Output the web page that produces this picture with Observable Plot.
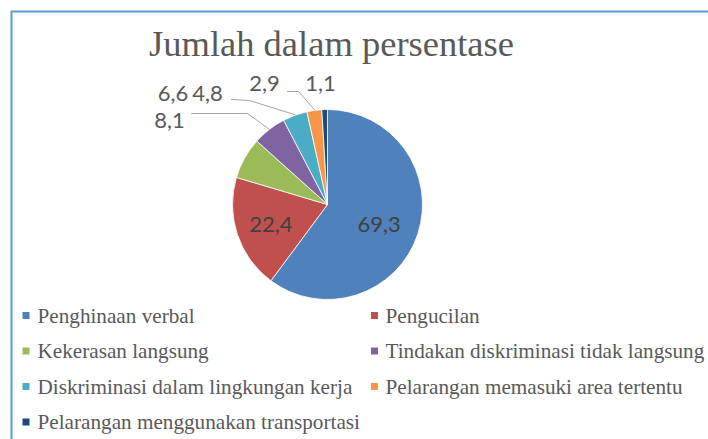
<!DOCTYPE html>
<html><head><meta charset="utf-8">
<script src="https://cdn.jsdelivr.net/npm/d3@7"></script>
<script src="https://cdn.jsdelivr.net/npm/@observablehq/plot@0.6"></script>
<style>html,body{margin:0;padding:0;background:#fff;overflow:hidden}</style>
</head><body><div id="chart"></div>
<script>
// ---- data ----
const title = "Jumlah dalam persentase";
const categories = [
  "Penghinaan verbal",
  "Pengucilan",
  "Kekerasan langsung",
  "Tindakan diskriminasi tidak langsung",
  "Diskriminasi dalam lingkungan kerja",
  "Pelarangan memasuki area tertentu",
  "Pelarangan menggunakan transportasi"
];
const values = [69.3, 22.4, 8.1, 6.6, 4.8, 2.9, 1.1];
const valueLabels = ["69,3", "22,4", "8,1", "6,6", "4,8", "2,9", "1,1"];
const colors = ["#4F81BD", "#C0504D", "#9BBB59", "#8064A2", "#4BACC6", "#F79646", "#1F497D"];

// ---- layout ----
const W = 708, H = 439;
const PIE = {cx: 327.5, cy: 204.5, r: 95};
const inside = [0, 1];                // slices labelled inside
const insideRadius = 0.6, insideShift = [-3, 2];
const outsidePos = {2: [169, 120], 3: [172.5, 93], 4: [207, 93], 5: [264, 83], 6: [320, 83]};
const leaderStart = {3: [[191, 113], [247, 113]], 4: [[231, 99], [249, 100]], 5: [[287, 91], [298, 91]]};
const legend = {colX: [22.5, 371], textGap: [14.5, 14], rowY: [315.5, 351, 386.5, 422], box: 7};

const arcs = d3.pie().sort(null).value(d => d)(values);
const rows = values.map((v, i) => {
  const a0 = arcs[i].startAngle, a1 = arcs[i].endAngle, mid = (a0 + a1) / 2;
  return {i, name: categories[i], value: v, label: valueLabels[i], color: colors[i], a0, a1, mid};
});
const polar = (a, rr) => [PIE.cx + rr * Math.sin(a), PIE.cy - rr * Math.cos(a)];

const innerLabels = rows.filter(d => inside.includes(d.i)).map(d => {
  const [x, y] = polar(d.mid, PIE.r * insideRadius);
  return {...d, x: x + insideShift[0], y: y + insideShift[1]};
});
const outerLabels = rows.filter(d => outsidePos[d.i]).map(d => ({...d, x: outsidePos[d.i][0], y: outsidePos[d.i][1]}));
const leaders = [];
rows.forEach(d => {
  if (!leaderStart[d.i]) return;
  const pts = [...leaderStart[d.i], polar(d.mid, PIE.r + 1)];
  pts.forEach(([x, y]) => leaders.push({i: d.i, x, y}));
});
const legendRows = rows.map(d => {
  const c = d.i % 2, r = Math.floor(d.i / 2);
  const x = legend.colX[c], y = legend.rowY[r];
  return {...d, x1: x, x2: x + legend.box, y1: y - legend.box / 2, y2: y + legend.box / 2, tx: x + legend.textGap[c], ty: y};
});

// pie slices via render function using Plot's scales
function pieMark(index, scales) {
  const sx = scales.x, sy = scales.y;
  const cx = sx(PIE.cx), cy = sy(PIE.cy);
  const rpx = sx(PIE.cx + PIE.r) - cx;
  const arc = d3.arc().innerRadius(0).outerRadius(rpx);
  const g = d3.create("svg:g").attr("transform", `translate(${cx},${cy})`);
  g.selectAll("path").data(rows).join("path")
    .attr("d", d => arc({startAngle: d.a0, endAngle: d.a1}))
    .attr("fill", d => d.color)
    .attr("stroke", "#fff")
    .attr("stroke-width", 0.8)
    .attr("stroke-linejoin", "round");
  return g.node();
}

const chart = Plot.plot({
  width: W, height: H, margin: 0,
  x: {domain: [0, W], range: [0, W], axis: null},
  y: {domain: [0, H], range: [0, H], axis: null},
  style: {background: "#fff"},
  marks: [
    Plot.ruleX([11], {y1: 11, y2: H, stroke: "#5B9BD5", strokeWidth: 2}),
    Plot.ruleY([11], {x1: 11, x2: W, stroke: "#5B9BD5", strokeWidth: 2}),
    Plot.text([title], {x: 331, y: 44, text: d => d, fontFamily: "Liberation Serif", fontSize: 36.5, fill: "#595959", textAnchor: "middle", lineAnchor: "middle"}),
    pieMark,
    Plot.line(leaders, {x: "x", y: "y", z: "i", stroke: "#A6A6A6", strokeWidth: 1}),
    Plot.text(innerLabels, {x: "x", y: "y", text: "label", fontFamily: "Lato", fontSize: 22, fill: "#404040", textAnchor: "middle", lineAnchor: "middle"}),
    Plot.text(outerLabels, {x: "x", y: "y", text: "label", fontFamily: "Lato", fontSize: 22, fill: "#595959", textAnchor: "middle", lineAnchor: "middle"}),
    Plot.rect(legendRows, {x1: "x1", x2: "x2", y1: "y1", y2: "y2", fill: "color"}),
    Plot.text(legendRows, {x: "tx", y: "ty", text: "name", fontFamily: "Liberation Serif", fontSize: 21.2, fill: "#595959", textAnchor: "start", lineAnchor: "middle"})
  ]
});
document.getElementById("chart").appendChild(chart);
</script>
</body></html>
